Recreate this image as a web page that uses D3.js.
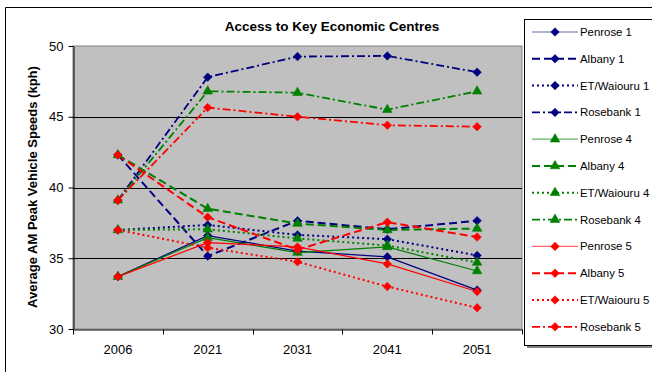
<!DOCTYPE html>
<html>
<head>
<meta charset="utf-8">
<script src="https://cdn.jsdelivr.net/npm/d3@7"></script>
<style>
  html, body { margin: 0; padding: 0; background: #fff; }
  svg { display: block; font-family: "Liberation Sans", Arial, sans-serif; }
</style>
</head>
<body>
<svg id="chart" width="652" height="372"></svg>
<script>
// ---- data ----
const years = ["2006", "2021", "2031", "2041", "2051"];
const penrose1   = [33.7, 36.6, 35.5, 35.1, 32.75];
const albany1    = [42.3, 35.15, 37.65, 37.05, 37.65];
const etWaiouru1 = [37.0, 37.35, 36.65, 36.35, 35.2];
const rosebank1  = [39.1, 47.8, 49.25, 49.3, 48.15];
const penrose4   = [33.7, 36.45, 35.4, 35.8, 34.1];
const albany4    = [42.3, 38.5, 37.45, 37.0, 37.1];
const etWaiouru4 = [37.0, 37.05, 36.4, 35.9, 34.7];
const rosebank4  = [39.1, 46.8, 46.7, 45.5, 46.8];
const penrose5   = [33.7, 36.1, 35.8, 34.6, 32.65];
const albany5    = [42.3, 37.9, 35.6, 37.55, 36.5];
const etWaiouru5 = [37.0, 35.75, 34.75, 33.0, 31.5];
const rosebank5  = [39.1, 45.65, 45.0, 44.4, 44.3];
const yTicks = [30, 35, 40, 45, 50];
const seriesNames = ["Penrose 1","Albany 1","ET/Waiouru 1","Rosebank 1",
                     "Penrose 4","Albany 4","ET/Waiouru 4","Rosebank 4",
                     "Penrose 5","Albany 5","ET/Waiouru 5","Rosebank 5"];
const seriesValues = [penrose1, albany1, etWaiouru1, rosebank1,
                      penrose4, albany4, etWaiouru4, rosebank4,
                      penrose5, albany5, etWaiouru5, rosebank5];

// ---- styles ----
const colors = { "1": "#000080", "4": "#008000", "5": "#FF0000" };
const dashFor = { "Penrose": null, "Albany": "8,4", "ET/Waiouru": "2,3", "Rosebank": "8,3,2,3" };
const widthFor = { "Penrose": 1.2, "Albany": 2, "ET/Waiouru": 2, "Rosebank": 1.8 };

const series = seriesNames.map((name, i) => {
  const parts = name.split(" ");
  const key = parts[1], loc = parts[0];
  return { name, values: seriesValues[i], color: colors[key], dash: dashFor[loc],
           width: widthFor[loc], marker: key === "4" ? "triangle" : "diamond" };
});

const svg = d3.select("#chart");
const plot = { left: 73, right: 522, top: 46, bottom: 329 };

// outer frame (top & left edges visible)
svg.append("line").attr("x1", 5.5).attr("x2", 652).attr("y1", 7.5).attr("y2", 7.5).attr("stroke", "#000");
svg.append("line").attr("x1", 5.5).attr("x2", 5.5).attr("y1", 7.5).attr("y2", 372).attr("stroke", "#000");

const x = d3.scaleBand().domain(years).range([plot.left, plot.right]).padding(0);
const y = d3.scaleLinear().domain([30, 50]).range([plot.bottom, plot.top]);
const cx = d => x(d) + x.bandwidth() / 2;

// plot area
svg.append("rect").attr("x", plot.left).attr("y", plot.top)
  .attr("width", plot.right - plot.left).attr("height", plot.bottom - plot.top)
  .attr("fill", "#C0C0C0").attr("stroke", "#808080").attr("stroke-width", 1);

// gridlines
svg.append("g").selectAll("line").data(yTicks.filter(t => t > 30 && t < 50)).join("line")
  .attr("x1", plot.left).attr("x2", plot.right)
  .attr("y1", d => Math.round(y(d)) + 0.5).attr("y2", d => Math.round(y(d)) + 0.5)
  .attr("stroke", "#000").attr("stroke-width", 1);

// y axis
const yAxis = svg.append("g").attr("transform", `translate(${plot.left + 0.5},0)`)
  .call(d3.axisLeft(y).tickValues(yTicks).tickSize(5).tickSizeOuter(0));
yAxis.select(".domain").attr("stroke", "#000");
yAxis.selectAll(".tick line").attr("stroke", "#000");
yAxis.selectAll("text").attr("font-size", 13).attr("fill", "#000").attr("x", -10)
  .attr("font-family", "'Liberation Sans', Arial, sans-serif");

// x axis
const xAxis = svg.append("g").attr("transform", `translate(0,${plot.bottom + 0.5})`)
  .call(d3.axisBottom(x).tickSize(0).tickSizeOuter(0));
xAxis.select(".domain").attr("stroke", "#000");
xAxis.selectAll("text").attr("font-size", 13).attr("fill", "#000").attr("dy", "0").attr("y", 24)
  .attr("font-family", "'Liberation Sans', Arial, sans-serif");
// boundary tick marks
const bounds = years.map(d => x(d)).concat([x(years[years.length - 1]) + x.bandwidth()]);
xAxis.selectAll("line.bt").data(bounds).join("line").attr("class", "bt")
  .attr("x1", d => Math.round(d) + 0.5).attr("x2", d => Math.round(d) + 0.5)
  .attr("y1", 0).attr("y2", 5).attr("stroke", "#000");

// lines
const line = d3.line().x((d, i) => cx(years[i])).y(d => y(d));
const lg = svg.append("g");
series.forEach(s => {
  lg.append("path").datum(s.values).attr("d", line).attr("fill", "none")
    .attr("stroke", s.color).attr("stroke-width", s.width)
    .attr("stroke-dasharray", s.dash);
});

// markers
const diamond = d3.symbol().type(d3.symbolDiamond2).size(46);
const triangle = d3.symbol().type(d3.symbolTriangle).size(40);
function drawMarker(g, s, px, py) {
  g.append("path").attr("d", s.marker === "triangle" ? triangle() : diamond())
    .attr("transform", `translate(${px},${py})`).attr("fill", s.color).attr("stroke", s.color).attr("stroke-width", 0.6);
}
const mg = svg.append("g");
series.forEach(s => {
  s.values.forEach((v, i) => drawMarker(mg, s, cx(years[i]), y(v)));
});

// title
svg.append("text").attr("x", 332).attr("y", 31).attr("text-anchor", "middle")
  .attr("font-size", 13.5).attr("font-weight", "bold").attr("fill", "#000")
  .text("Access to Key Economic Centres");

// y title
svg.append("text").attr("transform", "translate(37,187) rotate(-90)").attr("text-anchor", "middle")
  .attr("font-size", 13).attr("font-weight", "bold").attr("fill", "#000")
  .text("Average AM Peak Vehicle Speeds (kph)");

// legend
const lgX = 524, lgY = 19, lgH = 326;
svg.append("rect").attr("x", lgX + 3).attr("y", lgY + 3).attr("width", 200).attr("height", lgH).attr("fill", "#808080");
svg.append("rect").attr("x", lgX + 0.5).attr("y", lgY + 0.5).attr("width", 200).attr("height", lgH)
  .attr("fill", "#fff").attr("stroke", "#000");
const leg = svg.append("g");
series.forEach((s, i) => {
  const ry = 32 + i * 26.8;
  const g = leg.append("g");
  g.append("line").attr("x1", 532).attr("x2", 578).attr("y1", ry).attr("y2", ry)
    .attr("stroke", s.color).attr("stroke-width", s.width).attr("stroke-dasharray", s.dash)
    .attr("stroke-opacity", s.dash ? 1 : 0.6);
  drawMarker(g, s, 555, ry);
  g.append("text").attr("x", 580).attr("y", ry).attr("dy", "0.35em")
    .attr("font-size", 11.4).attr("fill", "#000").text(s.name);
});
</script>
</body>
</html>
